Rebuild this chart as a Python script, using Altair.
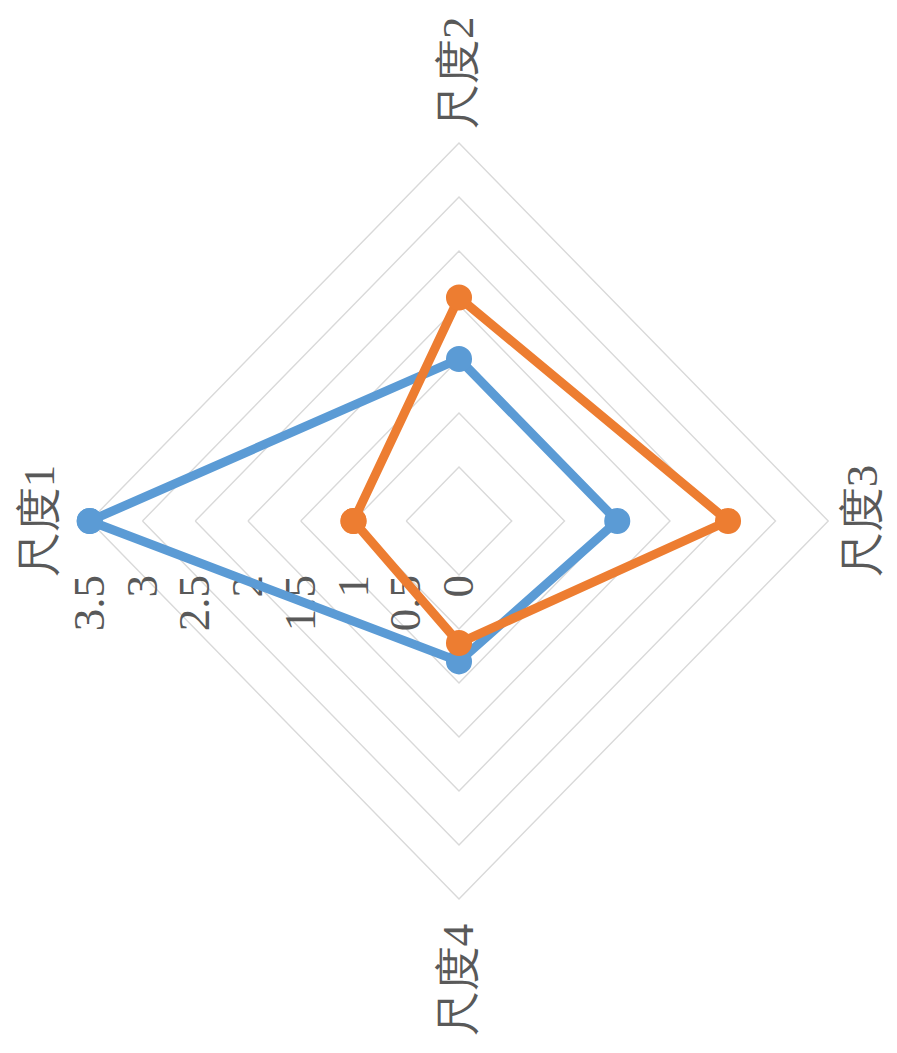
import altair as alt
import pandas as pd

# ---- data ----
categories = ["尺度1", "尺度2", "尺度3", "尺度4"]
series_names = ["系列1", "系列2"]
series1 = [3.5, 1.5, 1.5, 1.3]
series2 = [1.0, 2.07, 2.55, 1.13]
tick_values = [0, 0.5, 1, 1.5, 2, 2.5, 3, 3.5]
tick_labels = ["0", "0.5", "1", "1.5", "2", "2.5", "3", "3.5"]
grid_levels = [0.5, 1, 1.5, 2, 2.5, 3, 3.5]
colors = ["#5B9BD5", "#ED7D31"]

# directions of the (rotated) radar axes: left, up, right, down
dir_x = [-1, 0, 1, 0]
dir_y = [0, 1, 0, -1]

# ---- layout ----
W, H = 880, 1034
cx_px, cy_px = 451.0, 513.0   # center inside plot area
ppu_x, ppu_y = 105.5, 108.0   # pixels per unit
x_dom = [-cx_px / ppu_x, (W - cx_px) / ppu_x]
y_dom = [-(H - cy_px) / ppu_y, cy_px / ppu_y]

xs = alt.Scale(domain=x_dom, range=[0, W], nice=False, zero=False)
ys = alt.Scale(domain=y_dom, range=[H, 0], nice=False, zero=False)

# grid rows
grid_rows = []
for lv in grid_levels:
    for i in range(5):
        k = i % 4
        grid_rows.append({"level": lv, "idx": i, "x": dir_x[k] * lv, "y": dir_y[k] * lv})
grid_df = pd.DataFrame(grid_rows)

# series rows
ser_rows = []
for s, vals in zip(series_names, [series1, series2]):
    for i in range(5):
        k = i % 4
        ser_rows.append({"series": s, "idx": i, "cat": categories[k], "value": vals[k],
                         "x": dir_x[k] * vals[k], "y": dir_y[k] * vals[k]})
ser_df = pd.DataFrame(ser_rows)

# category label rows
lab_r = [3.97, 4.15, 3.83, 4.25]
cat_df = pd.DataFrame({"cat": categories,
                       "x": [dir_x[k] * lab_r[k] for k in range(4)],
                       "y": [dir_y[k] * lab_r[k] for k in range(4)]})

tick_df = pd.DataFrame({"v": tick_values, "label": tick_labels})
tick_df["x"] = -tick_df["v"]
tick_df["y"] = -0.5

font = "serif"
noaxis = dict(axis=None)

grid = alt.Chart(grid_df).mark_line(color="#D9D9D9", strokeWidth=1.4).encode(
    x=alt.X("x:Q", scale=xs, **noaxis),
    y=alt.Y("y:Q", scale=ys, **noaxis),
    detail="level:N",
    order="idx:Q",
)

ticks = alt.Chart(tick_df).mark_text(
    angle=270, align="right", baseline="middle", font=font, fontSize=45, color="#595959"
).encode(
    x=alt.X("x:Q", scale=xs, **noaxis),
    y=alt.Y("y:Q", scale=ys, **noaxis),
    text="label:N",
)

cats = alt.Chart(cat_df).mark_text(
    angle=270, align="center", baseline="middle", font=font, fontSize=45, color="#595959"
).encode(
    x=alt.X("x:Q", scale=xs, **noaxis),
    y=alt.Y("y:Q", scale=ys, **noaxis),
    text="cat:N",
)

cscale = alt.Scale(domain=series_names, range=colors)

layers = [grid, ticks, cats]
for s in series_names:
    d = ser_df[ser_df["series"] == s]
    base = alt.Chart(d).encode(
        x=alt.X("x:Q", scale=xs, **noaxis),
        y=alt.Y("y:Q", scale=ys, **noaxis),
        color=alt.Color("series:N", scale=cscale, legend=None),
    )
    layers.append(base.mark_line(strokeWidth=9, strokeJoin="round").encode(order="idx:Q"))
    layers.append(base.mark_point(filled=True, size=680, opacity=1))

chart = alt.layer(*layers).properties(
    width=W, height=H, autosize=alt.AutoSizeParams(type="none"), padding=0
).configure_view(stroke=None)

chart.save("out.html", embed_options={"renderer": "svg", "actions": False})
